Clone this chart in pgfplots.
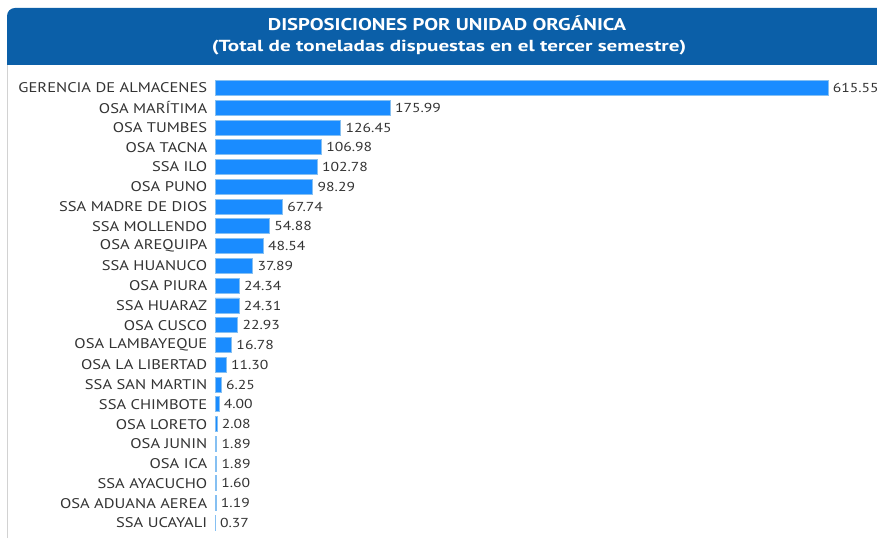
\documentclass[border=0pt]{standalone}
\usepackage{pgfplots}
\pgfplotsset{compat=1.18}
\usepackage{pgfplotstable}
\usepackage{fontspec}
\setmainfont{PT Sans}
\newfontfamily\titlefontA[FakeStretch=1.22]{PT Sans}
\newfontfamily\titlefontB[FakeStretch=1.32]{PT Sans}
\newfontfamily\lblfont[FakeStretch=1.18]{PT Sans}
\newfontfamily\valfont[FakeStretch=1.2]{PT Sans}
\definecolor{headblue}{HTML}{0B5FA8}
\definecolor{barblue}{HTML}{1A8CFF}
\definecolor{baredge}{HTML}{86C0F2}
\definecolor{txt}{HTML}{333333}

\pgfplotstableread{
idx val
0 615.55
1 175.99
2 126.45
3 106.98
4 102.78
5 98.29
6 67.74
7 54.88
8 48.54
9 37.89
10 24.34
11 24.31
12 22.93
13 16.78
14 11.30
15 6.25
16 4.00
17 2.08
18 1.89
19 1.89
20 1.60
21 1.19
22 0.37
}\datatable

\begin{document}
\begin{tikzpicture}[x=1pt,y=1pt]
\path[use as bounding box] (0,0) rectangle (877,538);
\clip (0,0) rectangle (877,538);
% header band
\fill[headblue] (877,473) -- (7,473) [rounded corners=8pt] -- (7,530) [sharp corners] -- (877,530) -- cycle;
\node[text=white, font=\titlefontA\bfseries\fontsize{17}{19}\selectfont] at (447,515) {DISPOSICIONES POR UNIDAD ORGÁNICA};
\node[text=white, font=\titlefontB\bfseries\fontsize{16}{18}\selectfont] at (449,490) {(Total de toneladas dispuestas en el tercer semestre)};
% left border of body
\draw[gray!35, line width=1pt] (7.5,0) -- (7.5,473);
\begin{axis}[
    overlay,
    at={(215pt,0pt)}, anchor=south west,
    scale only axis,
    width=662pt, height=468pt,
    xbar, bar width=15pt,
    xmin=0, xmax=664.7,
    ymin=-0.91, ymax=22.76,
    y dir=reverse,
    axis line style={draw=none},
    tick style={draw=none},
    xtick=\empty,
    ytick={0,...,22},
    yticklabels={GERENCIA DE ALMACENES, OSA MARÍTIMA, OSA TUMBES, OSA TACNA,
      SSA ILO, OSA PUNO, SSA MADRE DE DIOS, SSA MOLLENDO, OSA AREQUIPA,
      SSA HUANUCO, OSA PIURA, SSA HUARAZ, OSA CUSCO, OSA LAMBAYEQUE,
      OSA LA LIBERTAD, SSA SAN MARTIN, SSA CHIMBOTE, OSA LORETO, OSA JUNIN,
      OSA ICA, SSA AYACUCHO, OSA ADUANA AEREA, SSA UCAYALI},
    yticklabel style={font=\lblfont\fontsize{14}{15}\selectfont, text=txt},
    clip=false,
    nodes near coords,
    every node near coord/.append style={font=\valfont\fontsize{13}{14}\selectfont, text=txt, anchor=west, xshift=1pt},
    /pgf/number format/.cd, fixed, fixed zerofill, precision=2, assume math mode=true,
]
\addplot[fill=barblue, draw=baredge, line width=0.9pt] table[x=val, y=idx] {\datatable};
\end{axis}
\end{tikzpicture}
\end{document}
